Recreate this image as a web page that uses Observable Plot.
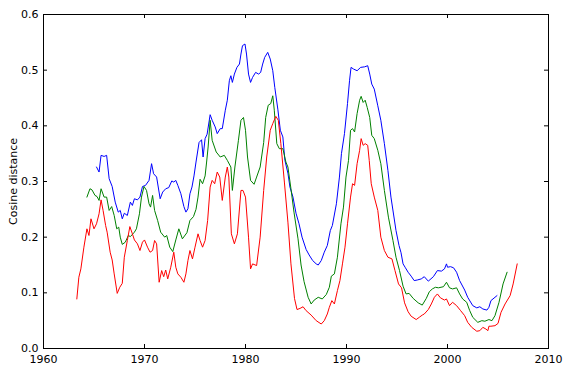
<!DOCTYPE html>
<html><head><meta charset="utf-8">
<script src="https://cdn.jsdelivr.net/npm/d3@7"></script>
<script src="https://cdn.jsdelivr.net/npm/@observablehq/plot@0.6"></script>
<style>html,body{margin:0;padding:0;background:#fff}</style>
</head><body><div id="chart"></div>
<script>
const blueYears = [1965.25,1965.5,1965.7,1966.0,1966.25,1966.5,1966.8,1967.1,1967.4,1967.6,1967.8,1968.0,1968.3,1968.6,1968.8,1969.0,1969.3,1969.55,1969.8,1970.1,1970.45,1970.7,1970.9,1971.2,1971.55,1971.8,1972.1,1972.4,1972.7,1972.9,1973.1,1973.3,1973.6,1973.9,1974.1,1974.3,1974.5,1974.7,1974.9,1975.1,1975.4,1975.65,1975.8,1976.0,1976.2,1976.5,1976.7,1977.0,1977.2,1977.5,1977.7,1978.0,1978.2,1978.4,1978.55,1978.7,1978.9,1979.15,1979.4,1979.55,1979.7,1979.95,1980.1,1980.3,1980.5,1980.7,1981.0,1981.3,1981.5,1981.7,1981.9,1982.2,1982.45,1982.7,1982.9,1983.2,1983.45,1983.7,1983.9,1984.2,1984.4,1984.7,1985.0,1985.3,1985.6,1986.0,1986.3,1986.65,1987.0,1987.2,1987.5,1987.8,1988.1,1988.4,1988.6,1989.0,1989.3,1989.5,1989.8,1990.1,1990.3,1990.45,1990.7,1991.05,1991.4,1991.8,1992.1,1992.3,1992.5,1992.75,1993.1,1993.4,1993.75,1994.1,1994.4,1994.9,1995.2,1995.4,1995.6,1995.8,1996.1,1996.4,1996.7,1997.0,1997.4,1997.7,1998.1,1998.6,1999.0,1999.4,1999.7,1999.9,2000.0,2000.3,2000.6,2000.9,2001.2,2001.7,2002.0,2002.5,2002.9,2003.2,2003.5,2003.9,2004.1,2004.3,2004.7,2004.9];
const blueValues = [0.326,0.317,0.347,0.345,0.347,0.305,0.291,0.263,0.245,0.248,0.233,0.243,0.239,0.263,0.257,0.269,0.267,0.272,0.291,0.293,0.302,0.332,0.314,0.308,0.269,0.281,0.287,0.289,0.301,0.299,0.302,0.293,0.278,0.255,0.245,0.251,0.278,0.29,0.31,0.335,0.37,0.375,0.344,0.377,0.385,0.42,0.41,0.398,0.386,0.395,0.395,0.428,0.446,0.481,0.49,0.478,0.493,0.505,0.511,0.529,0.544,0.547,0.529,0.493,0.478,0.487,0.496,0.493,0.496,0.511,0.523,0.532,0.52,0.499,0.469,0.43,0.392,0.38,0.338,0.315,0.29,0.272,0.243,0.224,0.2,0.178,0.168,0.158,0.152,0.15,0.158,0.173,0.185,0.212,0.221,0.26,0.308,0.35,0.386,0.44,0.481,0.505,0.502,0.499,0.505,0.506,0.508,0.493,0.475,0.466,0.436,0.41,0.368,0.32,0.272,0.212,0.185,0.172,0.152,0.146,0.137,0.13,0.122,0.123,0.125,0.129,0.121,0.129,0.14,0.139,0.143,0.152,0.146,0.147,0.145,0.137,0.122,0.105,0.092,0.077,0.073,0.075,0.071,0.069,0.074,0.086,0.092,0.095];

const greenYears = [1964.3,1964.6,1964.8,1965.1,1965.3,1965.5,1965.7,1966.0,1966.25,1966.5,1966.75,1967.0,1967.25,1967.45,1967.6,1967.8,1968.1,1968.4,1968.6,1969.0,1969.2,1969.5,1969.7,1969.95,1970.2,1970.45,1970.6,1970.8,1971.0,1971.3,1971.6,1972.0,1972.2,1972.5,1972.8,1973.1,1973.4,1973.75,1974.2,1974.5,1974.85,1975.1,1975.3,1975.5,1975.75,1976.0,1976.15,1976.3,1976.5,1976.7,1977.1,1977.5,1977.9,1978.2,1978.55,1978.7,1978.95,1979.3,1979.55,1979.8,1980.0,1980.2,1980.5,1980.85,1981.1,1981.45,1981.8,1982.0,1982.25,1982.5,1982.7,1982.85,1983.1,1983.35,1983.7,1984.0,1984.2,1984.5,1984.8,1985.2,1985.5,1985.8,1986.2,1986.5,1986.8,1987.2,1987.6,1988.0,1988.3,1988.5,1988.8,1989.1,1989.45,1989.7,1989.95,1990.2,1990.4,1990.6,1990.8,1991.05,1991.3,1991.45,1991.65,1991.85,1992.05,1992.3,1992.5,1992.75,1993.1,1993.4,1993.75,1994.15,1994.6,1994.9,1995.25,1995.6,1995.9,1996.2,1996.6,1997.1,1997.5,1997.9,1998.2,1998.5,1998.8,1999.1,1999.6,1999.9,2000.2,2000.5,2000.9,2001.2,2001.5,2001.9,2002.2,2002.5,2003.0,2003.4,2003.7,2004.1,2004.4,2004.7,2005.1,2005.5,2005.9];
const greenValues = [0.272,0.287,0.285,0.275,0.273,0.266,0.287,0.272,0.272,0.248,0.255,0.239,0.215,0.218,0.2,0.187,0.191,0.203,0.201,0.209,0.215,0.242,0.272,0.291,0.284,0.26,0.254,0.275,0.248,0.23,0.209,0.2,0.203,0.182,0.174,0.195,0.215,0.197,0.208,0.23,0.237,0.25,0.272,0.304,0.296,0.31,0.335,0.362,0.41,0.374,0.353,0.344,0.347,0.338,0.326,0.284,0.326,0.374,0.41,0.415,0.392,0.344,0.302,0.295,0.308,0.326,0.37,0.415,0.437,0.44,0.454,0.428,0.368,0.359,0.359,0.335,0.326,0.287,0.245,0.197,0.15,0.12,0.092,0.08,0.087,0.092,0.089,0.097,0.11,0.13,0.134,0.164,0.224,0.254,0.308,0.338,0.392,0.395,0.389,0.422,0.446,0.453,0.442,0.446,0.433,0.415,0.383,0.377,0.356,0.332,0.284,0.236,0.194,0.164,0.14,0.112,0.098,0.099,0.09,0.082,0.078,0.09,0.102,0.107,0.11,0.109,0.111,0.119,0.109,0.107,0.109,0.098,0.089,0.083,0.068,0.056,0.047,0.05,0.049,0.052,0.05,0.059,0.083,0.116,0.137];

const redYears = [1963.3,1963.5,1963.7,1964.0,1964.3,1964.5,1964.7,1965.0,1965.25,1965.5,1965.7,1965.9,1966.15,1966.3,1966.6,1966.8,1967.0,1967.3,1967.55,1967.8,1968.0,1968.3,1968.55,1968.8,1969.0,1969.3,1969.55,1969.8,1970.0,1970.3,1970.55,1970.8,1971.0,1971.2,1971.45,1971.7,1971.9,1972.1,1972.3,1972.6,1972.9,1973.1,1973.3,1973.6,1973.9,1974.1,1974.3,1974.5,1974.75,1975.0,1975.3,1975.5,1975.75,1976.0,1976.25,1976.5,1976.7,1976.95,1977.2,1977.45,1977.7,1978.0,1978.2,1978.35,1978.6,1978.9,1979.2,1979.55,1979.75,1980.0,1980.3,1980.5,1980.7,1981.1,1981.45,1981.8,1982.1,1982.45,1982.7,1983.0,1983.25,1983.5,1983.85,1984.2,1984.5,1984.85,1985.1,1985.4,1985.7,1986.0,1986.5,1987.0,1987.5,1987.8,1988.1,1988.3,1988.55,1988.8,1989.1,1989.35,1989.6,1989.85,1990.1,1990.4,1990.6,1990.8,1991.05,1991.3,1991.45,1991.65,1991.85,1992.1,1992.25,1992.45,1992.75,1993.1,1993.4,1993.75,1994.1,1994.5,1994.8,1995.15,1995.45,1995.75,1996.1,1996.4,1996.9,1997.2,1997.5,1997.7,1998.1,1998.4,1998.7,1999.0,1999.3,1999.7,1999.9,2000.2,2000.5,2000.9,2001.3,2001.7,2002.0,2002.4,2002.9,2003.2,2003.5,2003.8,2004.0,2004.1,2004.3,2004.7,2005.0,2005.3,2005.7,2006.2,2006.5,2006.9];
const redValues = [0.089,0.128,0.143,0.182,0.215,0.203,0.233,0.215,0.224,0.242,0.267,0.248,0.221,0.209,0.173,0.159,0.134,0.099,0.11,0.117,0.164,0.194,0.219,0.206,0.195,0.188,0.176,0.191,0.195,0.182,0.173,0.176,0.194,0.188,0.119,0.14,0.129,0.141,0.125,0.146,0.173,0.146,0.134,0.128,0.119,0.134,0.158,0.176,0.161,0.182,0.206,0.194,0.182,0.194,0.23,0.29,0.302,0.296,0.317,0.308,0.266,0.308,0.326,0.308,0.206,0.188,0.206,0.284,0.284,0.272,0.2,0.143,0.152,0.149,0.2,0.284,0.344,0.392,0.404,0.417,0.41,0.368,0.299,0.227,0.152,0.09,0.07,0.072,0.075,0.068,0.06,0.05,0.044,0.05,0.062,0.074,0.086,0.08,0.104,0.122,0.152,0.182,0.224,0.272,0.296,0.293,0.332,0.356,0.377,0.365,0.368,0.365,0.338,0.296,0.272,0.248,0.2,0.176,0.164,0.161,0.14,0.116,0.109,0.082,0.066,0.058,0.052,0.056,0.06,0.062,0.07,0.08,0.092,0.098,0.091,0.087,0.089,0.077,0.083,0.077,0.068,0.059,0.047,0.038,0.031,0.032,0.038,0.035,0.032,0.04,0.04,0.041,0.045,0.065,0.08,0.095,0.116,0.152];

const xTicks = [1960, 1970, 1980, 1990, 2000, 2010];
const yTicks = [0, 0.1, 0.2, 0.3, 0.4, 0.5, 0.6];
const yLabel = "Cosine distance";

const toRows = (years, values) => years.map((x, i) => ({x, y: values[i]}));
const blue = toRows(blueYears, blueValues);
const green = toRows(greenYears, greenValues);
const red = toRows(redYears, redValues);

const W = 570, H = 373, mT = 14, mB = 25, mL = 43, mR = 22;
const plotH = H - mT - mB, plotW = W - mL - mR, tickLen = 4;

const chart = Plot.plot({
  width: W, height: H,
  marginTop: mT, marginBottom: mB, marginLeft: mL, marginRight: mR,
  style: {fontFamily: "DejaVu Sans", fontSize: "11px", background: "white", color: "black"},
  x: {domain: [1960, 2010]},
  y: {domain: [0, 0.6]},
  marks: [
    Plot.line(blue, {x: "x", y: "y", stroke: "#0000ff", strokeWidth: 1}),
    Plot.line(green, {x: "x", y: "y", stroke: "#008000", strokeWidth: 1}),
    Plot.line(red, {x: "x", y: "y", stroke: "#ff0000", strokeWidth: 1}),
    Plot.frame({stroke: "black", strokeWidth: 1}),
    Plot.tickX(xTicks, {x: d => d, insetTop: plotH - tickLen, stroke: "black"}),
    Plot.tickX(xTicks, {x: d => d, insetBottom: plotH - tickLen, stroke: "black"}),
    Plot.tickY(yTicks, {y: d => d, insetRight: plotW - tickLen, stroke: "black"}),
    Plot.tickY(yTicks, {y: d => d, insetLeft: plotW - tickLen, stroke: "black"}),
    Plot.axisX({ticks: xTicks, tickSize: 0, tickPadding: 7, tickFormat: d => String(d), label: null}),
    Plot.axisY({ticks: yTicks, tickSize: 0, tickPadding: 5, tickFormat: d => d.toFixed(1), label: null}),
    Plot.text([yLabel], {text: d => d, frameAnchor: "left", textAnchor: "middle", rotate: -90, dx: -30, fontSize: 11})
  ]
});
document.getElementById("chart").appendChild(chart);
</script>
</body></html>
